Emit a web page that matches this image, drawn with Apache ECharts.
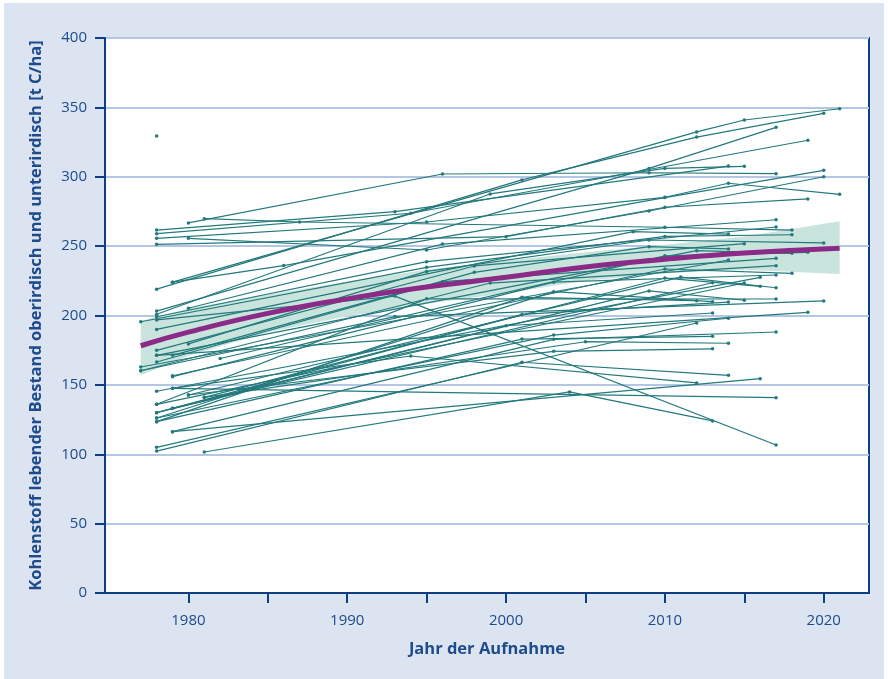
<!DOCTYPE html>
<html>
<head>
<meta charset="utf-8">
<script src="https://cdn.jsdelivr.net/npm/echarts@6/dist/echarts.min.js"></script>
<style>
  html, body { margin: 0; padding: 0; background: #fff; }
  #frame { position: absolute; left: 4px; top: 3px; width: 880px; height: 676px; background: #dce4f1; }
  #chart { position: absolute; left: 0; top: 0; width: 888px; height: 679px; }
</style>
</head>
<body>
<div id="frame"></div>
<div id="chart"></div>
<script>
// Wiederholungsaufnahmen: [Jahr, t C/ha]
const upperPlots = [
  [[1979, 224], [2012, 332.3], [2015, 340.9], [2021, 349]],
  [[1978, 219], [2001, 297.7], [2012, 328.6], [2020, 345.7]],
  [[1978, 203.2], [2009, 306], [2017, 335.6]],
  [[1980, 266.7], [1996, 302], [2009, 302.9], [2017, 302.2]],
  [[1978, 200.9], [1999, 287.6], [2010, 306], [2015, 307.5]],
  [[1981, 269.8], [1987, 267.4], [2010, 263.6], [2018, 261.6]],
  [[1978, 261.6], [1993, 274.8], [2014, 307.7]],
  [[1978, 259], [1994, 273.7], [2019, 326.3]],
  [[1978, 255.6], [1995, 267.4], [2010, 285.2], [2014, 295.3], [2021, 287.3]],
  [[1980, 255.6], [1995, 247.2], [2009, 275.3], [2020, 300]],
  [[1978, 251.3], [2000, 256.8], [2010, 278], [2019, 284]],
  [[1979, 224], [1986, 236], [2010, 285], [2020, 304.6]],
]

const midPlots = [
  [[1980, 205.2], [1996, 251.5], [2017, 269]],
  [[1978, 199.1], [1995, 238.8], [2017, 263.8]],
  [[1977, 195.5], [1995, 234.7], [2010, 257], [2018, 258.2]],
  [[1978, 196.8], [1993, 214], [2017, 106.7]],
  [[1978, 190], [2008, 260.4], [2014, 258.7]],
  [[1980, 179.5], [1995, 231.8], [2009, 254.4], [2020, 252.3]],
  [[1978, 174.9], [1998, 235.7], [2015, 251.8]],
  [[1979, 171.3], [1998, 231.1], [2009, 249.6], [2014, 248]],
  [[1978, 171.3], [2012, 246.7], [2018, 244.8]],
  [[1982, 169], [2010, 243], [2019, 245.5]],
  [[1978, 166.5], [1996, 224.4], [2017, 241.2]],
  [[1977, 162.9], [2014, 240]],
  [[1977, 160.2], [1999, 223.4], [2017, 235.9]],
  [[1979, 156.6], [2010, 233.5], [2018, 230.4]],
  [[1979, 155.9], [2003, 224], [2017, 229.2]],
  [[1978, 145.4], [2016, 227.5]],
  [[1980, 142.7], [2011, 227.7], [2017, 220]],
  [[1981, 141], [2010, 227], [2016, 221]],
  [[1978, 136], [2015, 223.4]],
  [[1979, 133.1], [2013, 223.6]],
  [[1978, 130], [2009, 217.7], [2015, 211]],
  [[1978, 126.1], [2003, 217.2], [2013, 210]],
  [[1978, 123.5], [2001, 213.1], [2012, 210.7]],
]

const lowPlots = [
  [[1979, 116.3], [2016, 154.5]],
  [[1978, 105], [2012, 194.6]],
  [[1978, 102.3], [2001, 166.3], [2014, 156.9]],
  [[1981, 101.6], [2004, 144.9], [2013, 124]],
  [[1979, 147.5], [1994, 170.8], [2012, 151.4]],
  [[1978, 130], [2001, 200.8], [2014, 209.7]],
  [[1979, 133.1], [2000, 192.6], [2013, 201.8]],
  [[1978, 126.1], [2003, 185.9], [2014, 198]],
  [[1978, 123.5], [2001, 183], [2013, 185]],
  [[1979, 116.3], [2003, 182.8], [2017, 188.1]],
  [[1980, 142.7], [2003, 174.2], [2013, 176]],
  [[1981, 141], [2005, 181.1], [2014, 180]],
  [[1978, 136], [1995, 212], [2017, 211.9]],
  [[1977, 160.2], [1993, 199.2], [2020, 210.5]],
  [[1978, 171.3], [2019, 202.3]],
  [[1979, 147.5], [2017, 140.8]],
  [[1978, 329.4]],
]

// Trend mit Konfidenzband
const trendYears = [1977, 1980, 1985, 1990, 1995, 2000, 2005, 2010, 2015, 2021]
const trendMean = [178.2, 188, 201.5, 212, 220.5, 227.5, 235, 240.5, 245, 248.5]
const trendLow = [157, 171, 188, 199.5, 208.5, 216, 225, 230.5, 233, 230]
const trendHigh = [196, 205, 215, 224.5, 233, 239.5, 245.5, 251, 257, 268]

const tickYears = [1980, 1985, 1990, 1995, 2000, 2005, 2010, 2015, 2020]
const labelYears = [1980, 1990, 2000, 2010, 2020]

const navy = '#0c3f84'
const labelBlue = '#1d4b8c'
const teal = '#23797c'
const font = 'Open Sans'

const plotSeries = [...upperPlots, ...midPlots, ...lowPlots].map((pts) => ({
  type: 'line',
  data: pts,
  symbol: 'circle',
  symbolSize: 3.5,
  showSymbol: true,
  itemStyle: { color: teal },
  lineStyle: { color: teal, width: 1.2 },
  z: 3,
  silent: true,
}))

// Konfidenzband als Polygon: oben hin, unten zurueck
function renderBand(params, api) {
  const upper = trendYears.map((y, i) => api.coord([y, trendHigh[i]]))
  const lower = trendYears.map((y, i) => api.coord([y, trendLow[i]])).reverse()
  return {
    type: 'polygon',
    shape: { points: upper.concat(lower) },
    style: { fill: '#c8e4dc' },
  }
}

const chart = echarts.init(document.getElementById('chart'))
chart.setOption({
  animation: false,
  grid: {
    left: 105,
    right: 19,
    top: 38,
    bottom: 86,
    show: true,
    backgroundColor: '#fff',
    borderColor: navy,
    borderWidth: 2,
  },
  xAxis: {
    type: 'value',
    min: 1974.75,
    max: 2022.85,
    name: 'Jahr der Aufnahme',
    nameLocation: 'middle',
    nameGap: 48,
    nameTextStyle: { color: labelBlue, fontSize: 16.5, fontWeight: 'bold', fontFamily: font },
    axisLine: { show: true, onZero: false, lineStyle: { color: navy, width: 2 } },
    axisTick: { show: true, length: 10, customValues: tickYears, lineStyle: { color: navy, width: 2 } },
    axisLabel: {
      customValues: labelYears,
      margin: 20,
      color: labelBlue,
      fontSize: 15,
      fontFamily: font,
      formatter: (v) => String(v),
    },
    splitLine: { show: false },
  },
  yAxis: {
    type: 'value',
    min: 0,
    max: 400,
    interval: 50,
    name: 'Kohlenstoff lebender Bestand oberirdisch und unterirdisch [t C/ha]',
    nameLocation: 'middle',
    nameGap: 60,
    nameTextStyle: { color: labelBlue, fontSize: 16.5, fontWeight: 'bold', fontFamily: font },
    axisLine: { show: true, lineStyle: { color: navy, width: 2 } },
    axisTick: { show: true, length: 10, lineStyle: { color: navy, width: 2 } },
    axisLabel: { margin: 18, color: labelBlue, fontSize: 15, fontFamily: font },
    splitLine: { show: true, lineStyle: { color: '#b4c6e3', width: 2 } },
  },
  series: [
    {
      type: 'custom',
      renderItem: renderBand,
      data: [0],
      clip: true,
      z: 1,
      silent: true,
    },
    ...plotSeries,
    {
      type: 'line',
      data: trendYears.map((y, i) => [y, trendMean[i]]),
      smooth: true,
      symbol: 'none',
      lineStyle: { color: '#8c2a88', width: 5 },
      z: 5,
      silent: true,
    },
  ],
})
</script>
</body>
</html>
